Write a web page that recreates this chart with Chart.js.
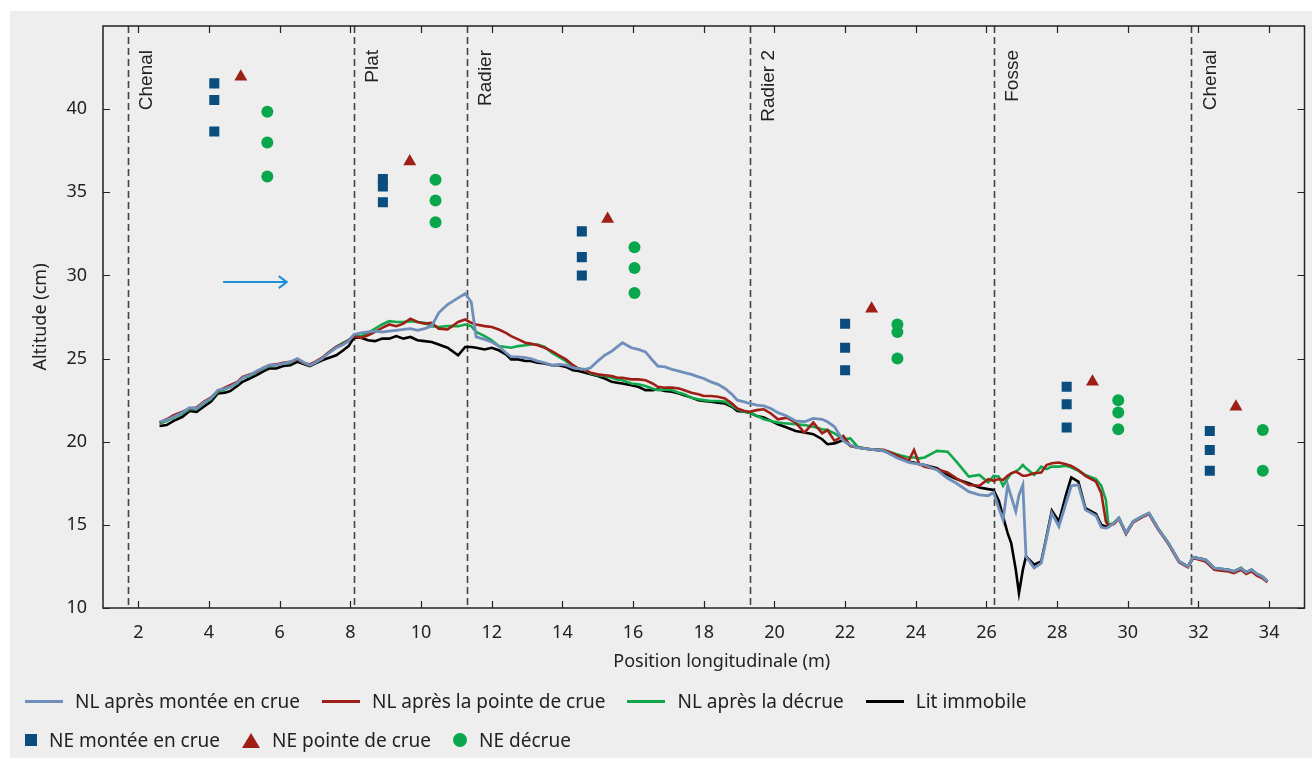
<!DOCTYPE html>
<html>
<head>
<meta charset="utf-8">
<script src="https://cdn.jsdelivr.net/npm/chart.js@4.4.0/dist/chart.umd.min.js"></script>
<style>
  body { margin: 0; background: #fff; width: 1312px; height: 758px; overflow: hidden; }
  #wrap { position: absolute; left: 10px; top: 11px; width: 1302px; height: 747px; background: #eeeeee; }
  #chart { position: absolute; left: 0; top: 0; }
  .row { position: absolute; left: 15px; display: flex; align-items: center; font: 19px "Noto Sans", sans-serif; color: #222; white-space: nowrap; }
  .item { display: flex; align-items: center; margin-right: 22px; }
  .sym { margin-right: 12px; }
</style>
</head>
<body>
<div id="wrap">
  <canvas id="chart" width="1302" height="747"></canvas>
  <div class="row" id="row1" style="top:677px"></div>
  <div class="row" id="row2" style="top:716px"></div>
</div>
<script>
// Positions le long du canal (m)
const positions = [
  2.6, 2.8, 3.0, 3.25, 3.45, 3.65, 3.85, 4.05, 4.25, 4.45, 4.6, 4.8, 4.95, 5.15, 5.35, 5.55, 5.7, 5.9, 6.1, 6.3,
  6.5, 6.7, 6.85, 7.0, 7.2, 7.4, 7.6, 7.8, 7.95, 8.1,
  8.3, 8.5, 8.7, 8.9, 9.1, 9.3, 9.5, 9.7, 9.9, 10.1, 10.3, 10.5, 10.75, 11.05, 11.25,
  11.42, 11.56, 11.8, 12.0, 12.2, 12.4, 12.55, 12.75, 12.95, 13.1, 13.3, 13.5, 13.7, 13.9, 14.1, 14.3, 14.45, 14.65, 14.8,
  15.0, 15.2, 15.4, 15.55, 15.7, 15.95, 16.15, 16.35, 16.55, 16.7, 16.9, 17.1, 17.3, 17.45, 17.65, 17.85, 18.0, 18.2,
  18.4, 18.6, 18.8, 18.95, 19.15, 19.3,
  19.5, 19.7, 19.9, 20.1, 20.35, 20.6, 20.85, 21.1, 21.35, 21.5, 21.7, 21.95, 22.15, 22.35, 22.7, 23.1, 23.45, 23.8,
  23.95, 24.1, 24.25, 24.6, 24.9, 25.15, 25.5, 25.8, 26.05, 26.2,
  26.35, 26.47, 26.6, 26.7, 26.83, 26.92, 27.03, 27.12, 27.35, 27.55, 27.7, 27.85, 28.05, 28.25, 28.4, 28.6, 28.8,
  29.1, 29.25, 29.38, 29.45, 29.6, 29.75, 29.95, 30.15, 30.4, 30.6, 30.85, 31.15, 31.45, 31.7, 31.85,
  32.2, 32.45, 32.65, 32.85, 33.0, 33.2, 33.35, 33.5, 33.65, 33.8, 33.95
];

// NL après montée en crue
const nlMontee = [
  21.2, 21.3, 21.5, 21.75, 22.05, 22.0, 22.35, 22.6, 23.1, 23.2, 23.3, 23.55, 23.85, 24.0, 24.25, 24.45, 24.6, 24.6, 24.7, 24.8,
  25.0, 24.75, 24.6, 24.75, 25.0, 25.35, 25.65, 25.85, 26.05, 26.45,
  26.55, 26.6, 26.65, 26.6, 26.65, 26.7, 26.75, 26.8, 26.7, 26.8, 26.95, 27.75, 28.25, 28.65, 28.9,
  28.4, 26.3, 26.15, 26.0, 25.75, 25.35, 25.1, 25.1, 25.05, 25.0, 24.85, 24.75, 24.6, 24.65, 24.6, 24.45, 24.4, 24.35, 24.45,
  24.85, 25.2, 25.45, 25.7, 25.95, 25.65, 25.55, 25.4, 24.9, 24.55, 24.5, 24.35, 24.25, 24.15, 24.05, 23.9, 23.8, 23.6,
  23.45, 23.2, 22.85, 22.5, 22.4, 22.3,
  22.2, 22.15, 22.0, 21.75, 21.55, 21.25, 21.2, 21.4, 21.35, 21.2, 20.9, 20.05, 19.8, 19.65, 19.55, 19.45, 19.05, 18.75,
  18.7, 18.65, 18.6, 18.3, 17.8, 17.5, 17.0, 16.8, 16.75, 16.95,
  16.0, 15.3, 17.4, 16.7, 15.8, 16.8, 17.4, 13.1, 12.4, 12.7, 14.2, 15.7, 14.9, 16.3, 17.35, 17.4, 15.9,
  15.55, 14.85, 14.8, 14.85, 15.1, 15.4, 14.5, 15.2, 15.5, 15.7, 14.8, 13.9, 12.8, 12.5, 13.05,
  12.9, 12.4, 12.35, 12.3, 12.2, 12.4, 12.15, 12.3, 12.05, 11.9, 11.6
];

// NL après la pointe de crue
const nlPointe = [
  21.15, 21.35, 21.6, 21.8, 22.0, 22.05, 22.4, 22.65, 23.05, 23.25, 23.4, 23.6, 23.9, 24.05, 24.2, 24.45, 24.6, 24.65, 24.75, 24.8,
  24.95, 24.7, 24.65, 24.8, 25.05, 25.4, 25.7, 25.9, 26.1, 26.35,
  26.25, 26.4, 26.6, 26.85, 27.05, 26.95, 27.1, 27.4, 27.2, 27.1, 27.15, 26.8, 26.75, 27.2, 27.35,
  27.15, 27.05, 26.95, 26.9, 26.75, 26.55, 26.35, 26.15, 25.95, 25.9, 25.8, 25.65, 25.45, 25.2, 24.95, 24.6, 24.4, 24.3, 24.15,
  24.05, 24.0, 23.95, 23.85, 23.85, 23.75, 23.75, 23.7, 23.5, 23.3, 23.25, 23.25, 23.2, 23.1, 22.95, 22.85, 22.75, 22.75,
  22.7, 22.6, 22.3, 22.0, 21.85, 21.8,
  21.9, 21.95, 21.7, 21.35, 21.45, 21.15, 20.55, 21.15, 20.5, 20.7, 20.05, 20.35, 19.75, 19.65, 19.55, 19.5, 19.2, 18.85,
  19.5, 18.65, 18.5, 18.35, 18.15, 17.8, 17.4, 17.35, 17.75, 17.65,
  17.75, 17.7, 17.95, 18.1, 18.2, 18.1, 17.95, 17.95, 18.1, 18.15, 18.6, 18.7, 18.75, 18.65, 18.55, 18.3, 17.95,
  17.6, 16.9, 15.2, 14.95, 15.05, 15.35, 14.45, 15.15, 15.45, 15.65, 14.75, 13.85, 12.75, 12.45, 13.0,
  12.8, 12.3, 12.25, 12.2, 12.1, 12.3, 12.05, 12.2, 11.95, 11.8, 11.55
];

// NL après la décrue
const nlDecrue = [
  21.1, 21.25, 21.45, 21.7, 21.95, 21.95, 22.3, 22.55, 23.0, 23.15, 23.3, 23.5, 23.85, 23.95, 24.2, 24.4, 24.55, 24.6, 24.7, 24.75,
  24.95, 24.7, 24.6, 24.75, 25.0, 25.4, 25.7, 25.95, 26.1, 26.4,
  26.35, 26.55, 26.8, 27.05, 27.25, 27.2, 27.2, 27.25, 27.2, 27.15, 26.95, 26.9, 26.95, 26.95, 27.05,
  26.95, 26.6, 26.35, 26.1, 25.75, 25.7, 25.65, 25.75, 25.8, 25.85, 25.85, 25.7, 25.35, 25.1, 24.85, 24.55, 24.4, 24.3, 24.1,
  24.0, 23.95, 23.85, 23.75, 23.7, 23.5, 23.45, 23.35, 23.2, 23.1, 23.15, 23.1, 22.95, 22.85, 22.65, 22.55, 22.5, 22.45,
  22.45, 22.4, 22.15, 21.95, 21.8, 21.75,
  21.55, 21.35, 21.25, 21.15, 21.1, 21.05, 21.0, 20.9, 20.75, 20.7, 20.5, 20.15, 20.2, 19.7, 19.55, 19.5, 19.25, 19.05,
  19.05, 19.0, 19.05, 19.45, 19.4, 18.8, 17.9, 18.0, 17.55, 17.95,
  17.9, 17.35, 17.8, 18.1, 18.2, 18.35, 18.6, 18.4, 18.0, 18.5, 18.35, 18.5, 18.5, 18.55, 18.45, 18.25, 18.0,
  17.75, 17.35, 16.5, 15.0, 15.1, 15.4, 14.5, 15.2, 15.5, 15.7, 14.8, 13.9, 12.8, 12.5, 13.05,
  12.9, 12.4, 12.35, 12.3, 12.2, 12.4, 12.15, 12.3, 12.05, 11.9, 11.6
];

// Lit immobile
const litImmobile = [
  20.95, 21.0, 21.25, 21.5, 21.85, 21.8, 22.1, 22.4, 22.9, 22.95, 23.05, 23.35, 23.6, 23.8, 24.0, 24.25, 24.4, 24.4, 24.55, 24.6,
  24.8, 24.65, 24.55, 24.7, 24.9, 25.05, 25.2, 25.5, 25.75, 26.25,
  26.25, 26.1, 26.05, 26.2, 26.2, 26.35, 26.2, 26.3, 26.1, 26.05, 26.0, 25.85, 25.65, 25.2, 25.7,
  25.7, 25.65, 25.55, 25.65, 25.5, 25.25, 24.95, 24.95, 24.85, 24.85, 24.75, 24.7, 24.6, 24.6, 24.5, 24.3, 24.25, 24.15, 24.05,
  23.95, 23.8, 23.6, 23.55, 23.5, 23.4, 23.3, 23.1, 23.1, 23.15, 23.05, 23.0, 22.9, 22.8, 22.65, 22.5, 22.45, 22.4,
  22.35, 22.3, 22.1, 21.85, 21.8, 21.75,
  21.55, 21.45, 21.25, 21.05, 20.85, 20.65, 20.55, 20.45, 20.15, 19.85, 19.9, 20.1, 19.75, 19.65, 19.55, 19.45, 19.1, 18.8,
  18.75, 18.65, 18.6, 18.4, 18.0, 17.75, 17.5, 17.25, 17.15, 17.1,
  16.45, 15.5, 14.5, 13.9, 12.3, 10.9, 12.3, 13.1, 12.6, 12.8, 14.3, 15.85, 15.2, 16.8, 17.85, 17.6, 16.0,
  15.65, 15.0, 14.9, 14.9, 15.1, 15.4, 14.5, 15.2, 15.5, 15.7, 14.8, 13.9, 12.8, 12.5, 13.05,
  12.9, 12.4, 12.35, 12.3, 12.2, 12.4, 12.15, 12.3, 12.05, 11.9, 11.6
];

// Niveaux d'eau (NE)
const neMonteeX = [4.15, 4.15, 4.15, 8.92, 8.92, 8.92, 14.55, 14.55, 14.55, 22.0, 22.0, 22.0, 28.27, 28.27, 28.27, 32.32, 32.32, 32.32];
const neMonteeY = [41.55, 40.55, 38.65, 35.8, 35.35, 34.4, 32.65, 31.1, 30.0, 27.1, 25.65, 24.3, 23.3, 22.25, 20.85, 20.65, 19.5, 18.25];
const nePointeX = [4.9, 9.68, 15.28, 22.75, 29.0, 33.06];
const nePointeY = [41.95, 36.85, 33.4, 28.0, 23.6, 22.1];
const neDecrueX = [5.65, 5.65, 5.65, 10.41, 10.41, 10.41, 16.04, 16.04, 16.04, 23.48, 23.48, 23.48, 29.73, 29.73, 29.73, 33.82, 33.82];
const neDecrueY = [39.85, 38.0, 35.95, 35.75, 34.5, 33.2, 31.7, 30.45, 28.95, 27.05, 26.6, 25.0, 22.5, 21.75, 20.75, 20.7, 18.25];

// Zones morphologiques
const zoneBounds = [1.7, 8.1, 11.3, 19.3, 26.2, 31.8];
const zoneNames = ["Chenal", "Plat", "Radier", "Radier 2", "Fosse", "Chenal"];

// Sens de l'écoulement
const flowArrow = { x: [4.4, 6.2], y: 29.6 };

const xTicks = [2, 4, 6, 8, 10, 12, 14, 16, 18, 20, 22, 24, 26, 28, 30, 32, 34];
const yTicks = [10, 15, 20, 25, 30, 35, 40];
const xTitle = "Position longitudinale (m)";

function pts(xs, ys) {
  return xs.map((x, i) => ({ x: x, y: ys[i] }));
}

function lineSet(label, values, color, width) {
  return {
    label: label,
    data: pts(positions, values),
    showLine: true,
    borderColor: color,
    backgroundColor: color,
    borderWidth: width,
    pointRadius: 0,
    tension: 0,
    legendRow: 1
  };
}

function markerSet(label, xs, ys, style, color, radius) {
  return {
    label: label,
    data: pts(xs, ys),
    showLine: false,
    pointStyle: style,
    pointRadius: radius,
    backgroundColor: color,
    borderColor: color,
    borderWidth: 0,
    legendRow: 2
  };
}

// Decorations: zones, arrow, frame with inner ticks, x title
const decorations = {
  id: "decorations",
  beforeDatasetsDraw(chart) {
    const { ctx, chartArea: a, scales: { x, y } } = chart;
    ctx.save();
    ctx.strokeStyle = "#444";
    ctx.lineWidth = 1.6;
    ctx.setLineDash([7, 4]);
    zoneBounds.forEach((b) => {
      const px = Math.round(x.getPixelForValue(b)) + 0.5;
      ctx.beginPath();
      ctx.moveTo(px, a.top);
      ctx.lineTo(px, a.bottom);
      ctx.stroke();
    });
    ctx.setLineDash([]);
    ctx.fillStyle = "#222";
    ctx.font = '19px "Liberation Sans", Arial, sans-serif';
    zoneNames.forEach((name, i) => {
      ctx.save();
      ctx.translate(x.getPixelForValue(zoneBounds[i]) + 19, a.top + 24);
      ctx.rotate(-Math.PI / 2);
      ctx.textAlign = "right";
      ctx.textBaseline = "middle";
      ctx.fillText(name, 0, 0);
      ctx.restore();
    });
    // arrow
    const x0 = x.getPixelForValue(flowArrow.x[0]);
    const x1 = x.getPixelForValue(flowArrow.x[1]);
    const ay = y.getPixelForValue(flowArrow.y);
    ctx.strokeStyle = "#1b8fd8";
    ctx.lineWidth = 2;
    ctx.beginPath();
    ctx.moveTo(x0, ay);
    ctx.lineTo(x1, ay);
    ctx.moveTo(x1 - 8, ay - 6);
    ctx.lineTo(x1, ay);
    ctx.lineTo(x1 - 8, ay + 6);
    ctx.stroke();
    ctx.restore();
  },
  afterDatasetsDraw(chart) {
    const { ctx, chartArea: a, scales: { x, y } } = chart;
    ctx.save();
    ctx.strokeStyle = "#222";
    ctx.lineWidth = 1.5;
    ctx.strokeRect(a.left, a.top, a.right - a.left, a.bottom - a.top);
    ctx.beginPath();
    xTicks.forEach((t) => {
      const px = Math.round(x.getPixelForValue(t)) + 0.5;
      ctx.moveTo(px, a.bottom); ctx.lineTo(px, a.bottom - 7);
      ctx.moveTo(px, a.top); ctx.lineTo(px, a.top + 7);
    });
    yTicks.forEach((t) => {
      const py = Math.round(y.getPixelForValue(t)) + 0.5;
      ctx.moveTo(a.left, py); ctx.lineTo(a.left + 7, py);
      ctx.moveTo(a.right, py); ctx.lineTo(a.right - 7, py);
    });
    ctx.lineWidth = 1.2;
    ctx.stroke();
    // axis title, a bit right of centre like the original
    ctx.fillStyle = "#222";
    ctx.font = '18px "Noto Sans", sans-serif';
    ctx.textAlign = "center";
    ctx.textBaseline = "middle";
    ctx.fillText(xTitle, (a.left + a.right) / 2 + 18, a.bottom + 54);
    ctx.restore();
  }
};

Chart.defaults.font.family = '"Noto Sans", sans-serif';
Chart.defaults.font.size = 18;
Chart.defaults.color = "#222";

const chart = new Chart(document.getElementById("chart"), {
  type: "scatter",
  data: {
    datasets: [
      lineSet("NL après montée en crue", nlMontee, "#6f8fba", 2.8),
      lineSet("NL après la pointe de crue", nlPointe, "#9e1f16", 2.6),
      lineSet("NL après la décrue", nlDecrue, "#11a84c", 2.6),
      lineSet("Lit immobile", litImmobile, "#000000", 2.6),
      markerSet("NE montée en crue", neMonteeX, neMonteeY, "rect", "#0a4d7e", 7.1),
      markerSet("NE pointe de crue", nePointeX, nePointeY, "triangle", "#9e1f16", 7.5),
      markerSet("NE décrue", neDecrueX, neDecrueY, "circle", "#0aa64b", 6)
    ]
  },
  options: {
    responsive: false,
    animation: false,
    layout: { padding: { left: 0, right: 2, top: 15, bottom: 0 } },
    plugins: { legend: { display: false }, tooltip: { enabled: false } },
    scales: {
      x: {
        type: "linear",
        min: 1,
        max: 35,
        afterBuildTicks: (s) => { s.ticks = xTicks.map((v) => ({ value: v })); },
        afterFit: (s) => { s.height = 150; },
        grid: { display: false, drawTicks: false },
        border: { display: false },
        ticks: { padding: 14, font: { size: 18 } }
      },
      y: {
        min: 10,
        max: 45,
        afterBuildTicks: (s) => { s.ticks = yTicks.map((v) => ({ value: v })); },
        afterFit: (s) => { s.width = 93; s.paddingTop = 0; s.paddingBottom = 0; },
        grid: { display: false, drawTicks: false },
        border: { display: false },
        ticks: { padding: 16, font: { size: 18 } },
        title: { display: true, text: "Altitude (cm)", font: { size: 18 }, padding: { top: 20, bottom: 0 } }
      }
    }
  },
  plugins: [decorations]
});

// HTML legend built from the datasets
function symbolFor(ds) {
  const el = document.createElement("span");
  el.className = "sym";
  if (ds.legendRow === 1) {
    el.style.cssText = "display:inline-block;width:38px;height:3px;background:" + ds.borderColor;
  } else if (ds.pointStyle === "rect") {
    el.style.cssText = "display:inline-block;width:12px;height:12px;background:" + ds.backgroundColor;
  } else if (ds.pointStyle === "triangle") {
    el.style.cssText = "display:inline-block;width:0;height:0;border-left:9px solid transparent;border-right:9px solid transparent;border-bottom:15px solid " + ds.backgroundColor;
  } else {
    el.style.cssText = "display:inline-block;width:14px;height:14px;border-radius:50%;background:" + ds.backgroundColor;
  }
  return el;
}

chart.data.datasets.forEach((ds) => {
  const item = document.createElement("span");
  item.className = "item";
  item.appendChild(symbolFor(ds));
  const txt = document.createElement("span");
  txt.textContent = ds.label;
  item.appendChild(txt);
  document.getElementById(ds.legendRow === 1 ? "row1" : "row2").appendChild(item);
});
</script>
</body>
</html>
